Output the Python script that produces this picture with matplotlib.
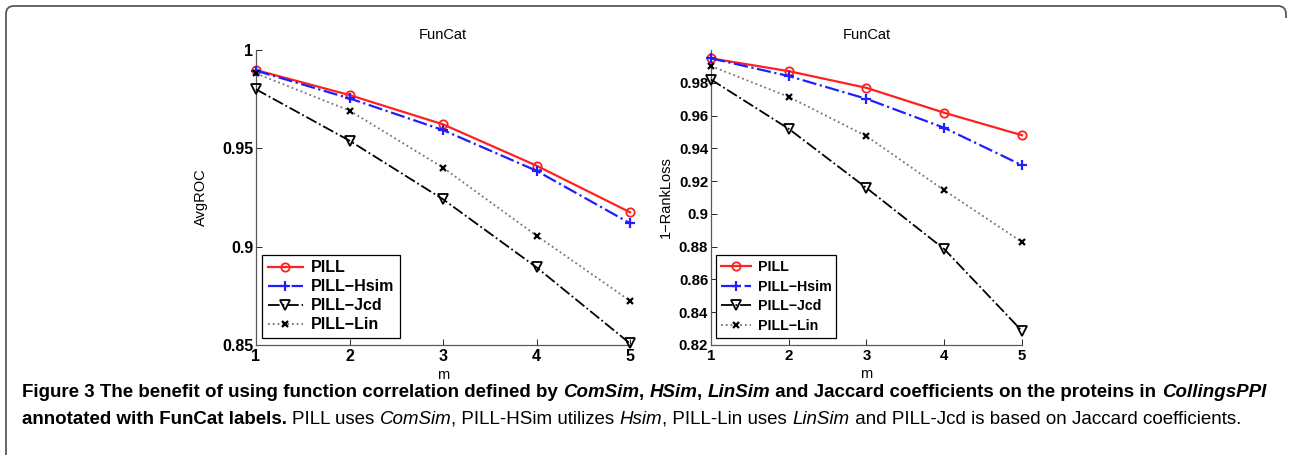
import numpy as np
import matplotlib
matplotlib.use('Agg')
import matplotlib.pyplot as plt
from matplotlib.path import Path
from matplotlib.patches import PathPatch

plt.rcParams['font.family'] = ['Liberation Sans', 'DejaVu Sans']

#data
m = [1, 2, 3, 4, 5]
labels = ['PILL', 'PILL\u2212Hsim', 'PILL\u2212Jcd', 'PILL\u2212Lin']

roc_pill = [0.9898, 0.9771, 0.9622, 0.9412, 0.9175]
roc_hsim = [0.9895, 0.9754, 0.9593, 0.9386, 0.9119]
roc_jcd = [0.9800, 0.9539, 0.9241, 0.8895, 0.8508]
roc_lin = [0.9881, 0.9692, 0.9402, 0.9056, 0.8725]

rl_pill = [0.9949, 0.9871, 0.9769, 0.9617, 0.9480]
rl_hsim = [0.9949, 0.9841, 0.9702, 0.9525, 0.9297]
rl_jcd = [0.9820, 0.9519, 0.9158, 0.8785, 0.8286]
rl_lin = [0.9902, 0.9714, 0.9474, 0.9144, 0.8828]

roc_ticks = [0.85, 0.9, 0.95, 1]
roc_ticklabels = ['0.85', '0.9', '0.95', '1']
rl_ticks = [0.82, 0.84, 0.86, 0.88, 0.9, 0.92, 0.94, 0.96, 0.98]
rl_ticklabels = ['0.82', '0.84', '0.86', '0.88', '0.9', '0.92', '0.94',
                 '0.96', '0.98']

#line styles per series (matlab look)
styles = [
    dict(color='#ff2020', linestyle='-', lw=1.6, marker='o', ms=6,
         mfc='none', mec='#ff2020', mew=1.3),
    dict(color='#1f1fff', linestyle='-.', lw=1.6, marker='+', ms=7,
         mew=1.6),
    dict(color='black', linestyle='-.', lw=1.3, marker='v', ms=7,
         mfc='none', mec='black', mew=1.3),
    dict(color='0.45', linestyle=':', lw=1.3, marker='x', ms=4,
         mec='black', mew=1.6),
]

W, H = 1290, 455
fig = plt.figure(figsize=(W / 100, H / 100), dpi=100)


def px_axes(x0, y0, x1, y1):
    return fig.add_axes([x0 / W, 1 - y1 / H, (x1 - x0) / W, (y1 - y0) / H])


def style_axes(ax, ylabel, ticks, ticklabels, ylim, tsize):
    ax.set_xlim(1, 5)
    ax.set_ylim(*ylim)
    ax.set_xticks(m)
    ax.set_xticklabels([str(v) for v in m], fontweight='bold', fontsize=tsize)
    ax.set_yticks(ticks)
    ax.set_yticklabels(ticklabels, fontweight='bold', fontsize=tsize)
    ax.tick_params(direction='in', length=4, width=0.6, colors='black')
    ax.tick_params(axis='x', pad=3)
    ax.tick_params(axis='y', pad=2)
    for s in ['top', 'right']:
        ax.spines[s].set_visible(False)
    for s in ['left', 'bottom']:
        ax.spines[s].set_color('0.35')
        ax.spines[s].set_linewidth(0.9)
    ax.set_title('FunCat', fontsize=10.5, pad=8)
    ax.set_xlabel('m', fontsize=10.5, labelpad=3)
    ax.set_ylabel(ylabel, fontsize=10.5)
    ax.patch.set_alpha(0)


def draw_panel(ax, series, lsize, hlen, lspace):
    for ys, lab, st in zip(series, labels, styles):
        ax.plot(m, ys, label=lab, clip_on=False, zorder=3, **st)
    leg = ax.legend(loc='lower left', bbox_to_anchor=(0.016, 0.024),
                    fancybox=False, edgecolor='black', framealpha=1,
                    borderaxespad=0, handlelength=hlen, handletextpad=0.5,
                    borderpad=0.35, labelspacing=lspace,
                    prop=dict(weight='bold', size=lsize))
    leg.get_frame().set_linewidth(0.9)


ax1 = px_axes(256, 50, 630, 345)
draw_panel(ax1, [roc_pill, roc_hsim, roc_jcd, roc_lin], 11.5, 2.2, 0.25)
style_axes(ax1, 'AvgROC', roc_ticks, roc_ticklabels, (0.85, 1.0), 11.5)
ax1.yaxis.labelpad = 10

#right panel is horizontally squeezed in the original, so smaller fonts
ax2 = px_axes(711, 50, 1022, 345)
draw_panel(ax2, [rl_pill, rl_hsim, rl_jcd, rl_lin], 10.2, 2.1, 0.4)
style_axes(ax2, '1\u2212RankLoss', rl_ticks, rl_ticklabels, (0.82, 1.0),
           10.8)
ax2.yaxis.labelpad = 4

#outer frame: left and top edges with rounded corners, open elsewhere
fx = lambda x: x / W
fy = lambda y: 1 - y / H
verts = [(fx(6), fy(470)), (fx(6), fy(14)), (fx(6), fy(6)), (fx(14), fy(6)),
         (fx(1278), fy(6)), (fx(1286), fy(6)), (fx(1286), fy(14)),
         (fx(1286), fy(18))]
codes = [Path.MOVETO, Path.LINETO, Path.CURVE3, Path.CURVE3,
         Path.LINETO, Path.CURVE3, Path.CURVE3, Path.LINETO]
frame = PathPatch(Path(verts, codes), transform=fig.transFigure, fill=False,
                  edgecolor='0.35', lw=1.3, clip_on=False)
fig.patches.append(frame)

#caption, built piece by piece so bold/italic mix on one line
cap_family = ['Liberation Sans', 'DejaVu Sans']
cap_size = 13.5
line1 = [
    ('Figure 3 The benefit of using function correlation defined by ',
     'bold', 'normal'),
    ('ComSim', 'bold', 'italic'), (', ', 'bold', 'normal'),
    ('HSim', 'bold', 'italic'), (', ', 'bold', 'normal'),
    ('LinSim', 'bold', 'italic'),
    (' and Jaccard coefficients on the proteins in ', 'bold', 'normal'),
    ('CollingsPPI', 'bold', 'italic'),
]
line2 = [
    ('annotated with FunCat labels. ', 'bold', 'normal'),
    ('PILL uses ', 'normal', 'normal'), ('ComSim', 'normal', 'italic'),
    (', PILL-HSim utilizes ', 'normal', 'normal'),
    ('Hsim', 'normal', 'italic'),
    (', PILL-Lin uses ', 'normal', 'normal'),
    ('LinSim', 'normal', 'italic'),
    (' and PILL-Jcd is based on Jaccard coefficients.', 'normal', 'normal'),
]

renderer = fig.canvas.get_renderer()


def write_line(pieces, x_px, y_px, size):
    x = x_px
    for txt, wt, st in pieces:
        t = fig.text(x / W, 1 - y_px / H, txt, fontsize=size,
                     fontweight=wt, fontstyle=st, family=cap_family,
                     va='baseline', ha='left', color='black')
        x += t.get_window_extent(renderer).width


write_line(line1, 22, 397, cap_size)
write_line(line2, 22, 424, cap_size)

fig.savefig('out.png', dpi=100)
